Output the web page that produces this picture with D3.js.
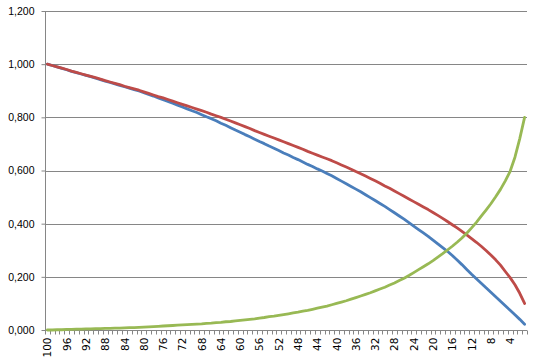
<!DOCTYPE html>
<head>
	<meta charset="utf-8" />
	<style>
		body {
			margin: 0;
			background-color: #fff;
			font-family: 'DejaVu Sans', sans-serif;
		}
		.grid line { stroke: #868686; stroke-width: 1; }
		.axis text { font-size: 10.5px; fill: #000; }
		.series { fill: none; stroke-width: 2.8; stroke-linejoin: round; stroke-linecap: round; }
	</style>
</head>
<body>
	<svg id="chart" width="537" height="362"></svg>

	<script src="https://cdn.jsdelivr.net/npm/d3@7/dist/d3.min.js"></script>
	<script>
		// categories run 100 down to 1
		const categories = d3.range(100, 0, -1);
		const tickLabels = d3.range(100, 0, -4);
		const yTicks = [0, 0.2, 0.4, 0.6, 0.8, 1.0, 1.2];

		const blueValues = [
			1.000, 0.995, 0.990, 0.984, 0.979, 0.973, 0.968, 0.963, 0.958, 0.953,
			0.947, 0.942, 0.936, 0.931, 0.926, 0.920, 0.915, 0.910, 0.904, 0.899,
			0.893, 0.886, 0.880, 0.873, 0.866, 0.860, 0.853, 0.846, 0.839, 0.832,
			0.825, 0.818, 0.810, 0.802, 0.795, 0.787, 0.778, 0.770, 0.761, 0.752,
			0.744, 0.735, 0.727, 0.718, 0.709, 0.701, 0.692, 0.684, 0.675, 0.666,
			0.658, 0.649, 0.641, 0.632, 0.623, 0.615, 0.606, 0.598, 0.589, 0.580,
			0.570, 0.560, 0.550, 0.540, 0.530, 0.520, 0.509, 0.498, 0.487, 0.476,
			0.465, 0.453, 0.441, 0.429, 0.417, 0.404, 0.391, 0.378, 0.365, 0.352,
			0.338, 0.324, 0.310, 0.296, 0.280, 0.263, 0.246, 0.228, 0.210, 0.193,
			0.176, 0.159, 0.142, 0.125, 0.108, 0.091, 0.074, 0.057, 0.040, 0.022
		];

		const redValues = [
			1.000, 0.995, 0.990, 0.985, 0.980, 0.974, 0.969, 0.964, 0.959, 0.954,
			0.949, 0.944, 0.938, 0.933, 0.928, 0.923, 0.917, 0.912, 0.907, 0.902,
			0.896, 0.890, 0.884, 0.878, 0.873, 0.867, 0.861, 0.855, 0.849, 0.843,
			0.837, 0.831, 0.825, 0.819, 0.812, 0.806, 0.800, 0.793, 0.786, 0.779,
			0.772, 0.765, 0.758, 0.750, 0.743, 0.736, 0.729, 0.722, 0.715, 0.708,
			0.701, 0.694, 0.687, 0.680, 0.672, 0.665, 0.658, 0.651, 0.644, 0.637,
			0.629, 0.621, 0.613, 0.605, 0.596, 0.588, 0.579, 0.570, 0.561, 0.552,
			0.542, 0.533, 0.523, 0.513, 0.503, 0.493, 0.483, 0.473, 0.463, 0.453,
			0.442, 0.431, 0.420, 0.408, 0.396, 0.384, 0.371, 0.358, 0.344, 0.330,
			0.315, 0.299, 0.282, 0.264, 0.244, 0.220, 0.197, 0.170, 0.138, 0.100
		];

		const greenValues = [
			0.000, 0.000, 0.001, 0.001, 0.002, 0.002, 0.003, 0.003, 0.004, 0.004,
			0.005, 0.005, 0.006, 0.006, 0.007, 0.007, 0.008, 0.009, 0.009, 0.010,
			0.011, 0.012, 0.013, 0.014, 0.015, 0.016, 0.017, 0.018, 0.019, 0.020,
			0.021, 0.022, 0.023, 0.025, 0.026, 0.028, 0.029, 0.031, 0.032, 0.034,
			0.036, 0.038, 0.040, 0.042, 0.045, 0.047, 0.050, 0.052, 0.055, 0.058,
			0.061, 0.064, 0.067, 0.071, 0.074, 0.078, 0.082, 0.086, 0.090, 0.095,
			0.100, 0.105, 0.110, 0.116, 0.122, 0.128, 0.134, 0.140, 0.147, 0.154,
			0.161, 0.169, 0.177, 0.186, 0.195, 0.205, 0.216, 0.227, 0.238, 0.249,
			0.261, 0.274, 0.287, 0.301, 0.315, 0.330, 0.346, 0.364, 0.384, 0.405,
			0.428, 0.451, 0.475, 0.501, 0.529, 0.561, 0.597, 0.650, 0.720, 0.800
		];

		const series = [
			{ name: 'blue', color: '#4a7ebb', values: blueValues },
			{ name: 'red', color: '#be4b48', values: redValues },
			{ name: 'green', color: '#98b954', values: greenValues }
		];

		const margins = { top: 11, right: 10, bottom: 32, left: 45 };
		const width = 537, height = 362;

		const svg = d3.select('#chart');

		const x = d3.scaleBand()
			.domain(categories)
			.range([margins.left, width - margins.right])
			.padding(0);

		const y = d3.scaleLinear()
			.domain([0, 1.2])
			.range([height - margins.bottom, margins.top]);

		const fmt = d3.formatLocale({ decimal: ',', thousands: '.', grouping: [3] }).format('.3f');

		// horizontal gridlines
		svg.append('g')
			.attr('class', 'grid')
			.selectAll('line')
			.data(yTicks.filter(d => d > 0))
			.join('line')
			.attr('x1', margins.left)
			.attr('x2', width - margins.right)
			.attr('y1', d => Math.round(y(d)) + 0.5)
			.attr('y2', d => Math.round(y(d)) + 0.5);

		// y axis
		const yAxis = svg.append('g')
			.attr('class', 'axis')
			.attr('transform', `translate(${margins.left + 0.5},0)`)
			.call(d3.axisLeft(y).tickValues(yTicks).tickFormat(fmt).tickSize(4).tickPadding(7));
		yAxis.selectAll('line, path').attr('stroke', '#868686');
		yAxis.select('.domain').attr('d', `M0,${y(1.2)}V${y(0)}`);

		// x axis
		const xAxis = svg.append('g')
			.attr('class', 'axis')
			.attr('transform', `translate(0,${Math.round(y(0)) + 0.5})`);

		xAxis.append('line')
			.attr('x1', margins.left)
			.attr('x2', width - margins.right)
			.attr('stroke', '#868686');

		xAxis.selectAll('.tick-mark')
			.data(categories.concat(['end']))
			.join('line')
			.attr('class', 'tick-mark')
			.attr('stroke', '#868686')
			.attr('x1', d => Math.round(d === 'end' ? x.range()[1] : x(d)) + 0.5)
			.attr('x2', d => Math.round(d === 'end' ? x.range()[1] : x(d)) + 0.5)
			.attr('y1', 0)
			.attr('y2', 4);

		xAxis.selectAll('text')
			.data(tickLabels)
			.join('text')
			.attr('transform', d => `translate(${x(d) + x.bandwidth() / 2 + 4},7) rotate(-90)`)
			.attr('text-anchor', 'end')
			.text(d => d);

		// lines
		const line = d3.line()
			.x((d, i) => x(categories[i]) + x.bandwidth() / 2)
			.y(d => y(d));

		svg.append('g')
			.selectAll('path')
			.data(series)
			.join('path')
			.attr('class', 'series')
			.attr('stroke', d => d.color)
			.attr('d', d => line(d.values));
	</script>
</body>
